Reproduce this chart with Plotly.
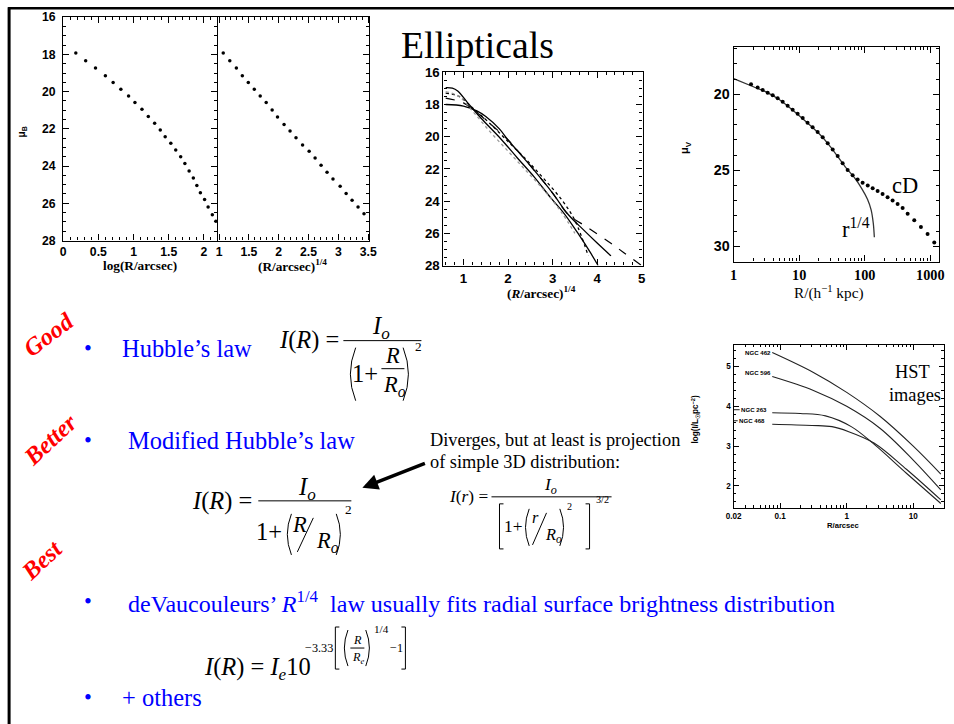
import plotly.graph_objects as go

W, H = 954, 724
# The photographed page shows the figure inset by the body margin and slightly
# scaled; positions below are given in reference-picture pixels and mapped back.
SX, OX = 0.9835, 7.9
SY, OY = 0.978, 7.8
FS = 1.0 / 0.981
SERIF = "Liberation Serif, Times New Roman, serif"
SANS = "Liberation Sans, Arial, sans-serif"

# ---------------- data ----------------
# Panel A: mu_B vs log(R/arcsec)
logR_A = [0.18, 0.32, 0.46, 0.60, 0.71, 0.82, 0.93, 1.02, 1.12, 1.21, 1.30, 1.38, 1.45,
          1.53, 1.60, 1.67, 1.73, 1.79, 1.85, 1.90, 1.95, 2.01, 2.06, 2.12, 2.17]
mu_A = [17.93, 18.34, 18.73, 19.15, 19.51, 19.87, 20.23, 20.59, 20.95, 21.34, 21.70, 22.06, 22.42,
        22.78, 23.14, 23.50, 23.86, 24.27, 24.64, 25.05, 25.44, 25.80, 26.20, 26.61, 26.97]
# Panel B: mu_B vs (R/arcsec)^1/4
r14_B = [1.07, 1.18, 1.29, 1.39, 1.49, 1.59, 1.69, 1.79, 1.89, 1.98, 2.09, 2.19, 2.29, 2.40,
         2.51, 2.61, 2.71, 2.81, 2.91, 3.03, 3.13, 3.23, 3.33, 3.43]
mu_B = [17.93, 18.34, 18.73, 19.15, 19.51, 19.87, 20.23, 20.59, 20.98, 21.36, 21.76, 22.12, 22.48,
        22.87, 23.20, 23.56, 23.95, 24.33, 24.69, 25.08, 25.48, 25.84, 26.20, 26.56]
# Panel C: several profiles vs (R/arcsec)^1/4
C_s1_x = [0.60, 0.75, 0.87, 1.09, 1.39, 1.84, 2.21, 2.59, 2.96, 3.26, 3.56, 3.86, 4.02]
C_s1_y = [16.95, 16.98, 17.16, 17.88, 18.84, 20.14, 21.32, 22.51, 23.80, 24.77, 25.96, 27.25, 28.0]
C_s2_x = [0.60, 1.00, 1.30, 1.50, 1.80, 2.00, 2.50, 3.00, 3.34, 3.70, 4.00, 4.31]
C_s2_y = [18.0, 18.1, 18.4, 18.75, 19.5, 20.2, 21.8, 23.5, 24.8, 25.8, 26.6, 27.4]
C_dash_x = [0.60, 1.00, 1.30, 1.60, 2.00, 2.50, 3.00, 3.34, 3.80, 4.30, 4.60, 5.00]
C_dash_y = [17.6, 17.9, 18.5, 19.2, 20.2, 21.8, 23.5, 24.8, 25.66, 26.6, 27.2, 28.0]
C_dot_x = [0.60, 0.90, 1.20, 1.60, 2.00, 2.40, 2.80, 3.20, 3.50, 3.80]
C_dot_y = [17.3, 17.5, 18.2, 19.2, 20.3, 21.4, 22.6, 23.9, 25.2, 27.4]
C_grey_x = [0.60, 0.90, 1.20, 1.60, 2.00, 2.40, 2.80, 3.20, 3.50]
C_grey_y = [17.2, 17.5, 18.4, 19.7, 20.9, 22.1, 23.3, 24.7, 26.0]
# Panel D: cD galaxy profile (points) and r^1/4 fit (line)
R_cD = [1.84, 2.32, 2.77, 3.30, 3.94, 4.69, 5.59, 6.66, 7.94, 9.46, 11.3, 13.4, 16.0, 19.1, 22.8,
        27.2, 32.4, 38.6, 45.9, 54.8, 65.3, 77.8, 92.7, 111, 132, 157, 187, 223, 266, 317, 378,
        451, 569, 719, 909, 1148]
mu_cD = [19.34, 19.55, 19.72, 19.89, 20.06, 20.26, 20.49, 20.75, 21.01, 21.28, 21.56, 21.86, 22.16,
         22.48, 22.83, 23.21, 23.62, 24.05, 24.54, 24.97, 25.33, 25.61, 25.82, 26.0, 26.17, 26.36,
         26.55, 26.77, 26.98, 27.22, 27.47, 27.86, 28.29, 28.72, 29.19, 29.74]
R_fit = [1, 2, 3, 5, 10, 20, 30, 50, 70, 90, 110, 125, 135, 140]
mu_fit = [18.97, 19.5, 19.8, 20.35, 21.4, 22.58, 23.45, 24.75, 25.5, 26.2, 26.9, 27.6, 28.5, 29.4]
# Panel E: HST profiles
hst_names = ["NGC 462", "NGC 596", "NGC 263", "NGC 468"]
hst_R = [[0.076, 0.316, 1.0, 3.16, 10.0, 26.0],
         [0.076, 0.316, 1.0, 3.16, 10.0, 26.0],
         [0.076, 0.2, 0.48, 1.17, 2.57, 7.9, 26.0],
         [0.076, 0.3, 0.6, 1.05, 2.57, 7.9, 26.0]]
hst_logI = [[5.35, 4.85, 4.35, 3.75, 3.0, 2.3],
            [4.75, 4.4, 4.0, 3.45, 2.65, 1.9],
            [3.84, 3.82, 3.76, 3.49, 3.05, 2.32, 1.56],
            [3.55, 3.52, 3.49, 3.37, 3.08, 2.42, 1.65]]


def X(r):
    return ((r - OX) / SX) / W


def Y(r):
    return 1 - ((r - OY) / SY) / H


def F(s):
    return round(s * FS, 2)


fig = go.Figure()

# ---------------- traces ----------------
fig.add_trace(go.Scatter(x=logR_A, y=mu_A, mode="markers", marker=dict(size=3.5, color="black"),
                         xaxis="x", yaxis="y"))
fig.add_trace(go.Scatter(x=r14_B, y=mu_B, mode="markers", marker=dict(size=3.5, color="black"),
                         xaxis="x2", yaxis="y2"))
for xs, ys, dash, col, w in [(C_s1_x, C_s1_y, "solid", "black", 1.3),
                             (C_s2_x, C_s2_y, "solid", "black", 1.3),
                             (C_dash_x, C_dash_y, "dash", "black", 1.2),
                             (C_dot_x, C_dot_y, "dot", "black", 1.3),
                             (C_grey_x, C_grey_y, "dot", "#9a9a9a", 1.3)]:
    fig.add_trace(go.Scatter(x=xs, y=ys, mode="lines", line=dict(color=col, width=w, dash=dash, shape="spline"),
                             xaxis="x3", yaxis="y3"))
fig.add_trace(go.Scatter(x=R_fit, y=mu_fit, mode="lines",
                         line=dict(color="#333", width=1.3, shape="spline", smoothing=0.8),
                         xaxis="x4", yaxis="y4"))
fig.add_trace(go.Scatter(x=R_cD, y=mu_cD, mode="markers", marker=dict(size=4, color="black"),
                         xaxis="x4", yaxis="y4"))
for rr, ii in zip(hst_R, hst_logI):
    fig.add_trace(go.Scatter(x=rr, y=ii, mode="lines", line=dict(color="#222", width=1.1, shape="spline"),
                             xaxis="x5", yaxis="y5"))


# ---------------- axes ----------------
def ax(dom, rng, anchor, **kw):
    d = dict(domain=dom, range=rng, anchor=anchor, showline=True, linecolor="black", linewidth=1.3,
             mirror="ticks", ticks="inside", ticklen=6, tickwidth=1.1, tickcolor="black",
             showgrid=False, zeroline=False,
             tickfont=dict(family=SANS, size=F(12), color="black", weight="bold"),
             minor=dict(ticks="inside", ticklen=3, tickwidth=0.9, tickcolor="black", showgrid=False))
    for k, v in kw.items():
        if k == "minor":
            d["minor"].update(v)
        elif k == "tickfont":
            v = dict(v)
            if "size" in v:
                v["size"] = F(v["size"])
            d["tickfont"].update(v)
        else:
            d[k] = v
    return d


def xd(a, b):
    return [X(a), X(b)]


def yd(bottom, top):
    return [Y(bottom), Y(top)]


dec_minor = [m * 10 ** e for e in range(0, 4) for m in range(2, 10)]
hst_minor = [m * 10 ** e for e in range(-2, 2) for m in range(2, 10)]

fig.update_layout(
    xaxis=ax(xd(63, 217), [0, 2.19], "y", tickvals=[0, 0.5, 1, 1.5, 2],
             ticktext=["0", "0.5", "1", "1.5", "2"], minor=dict(dtick=0.1)),
    yaxis=ax(yd(241, 18), [28, 16], "x", dtick=2, minor=dict(dtick=0.5), ticklabelstandoff=4),
    xaxis2=ax(xd(217, 369), [0.97, 3.52], "y2", tickvals=[1, 1.5, 2, 2.5, 3, 3.5],
              ticktext=["1", "1.5", "2", "2.5", "3", "3.5"], minor=dict(dtick=0.1)),
    yaxis2=ax(yd(241, 18), [28, 16], "x2", dtick=2, showticklabels=False, side="right", mirror=False,
              minor=dict(dtick=0.5)),
    xaxis3=ax(xd(443, 642), [0.55, 5.02], "y3", dtick=1, tickfont=dict(size=13), minor=dict(dtick=0.2)),
    yaxis3=ax(yd(266, 73), [28, 16], "x3", dtick=2, tickfont=dict(size=13), minor=dict(dtick=0.5)),
    xaxis4=ax(xd(733, 938), [0, 3.13], "y4", type="log", tickvals=[1, 10, 100, 1000],
              ticktext=["1", "10", "100", "1000"], tickfont=dict(size=14, family=SERIF),
              minor=dict(tickvals=dec_minor)),
    yaxis4=ax(yd(262, 48), [31.0, 16.9], "x4", dtick=5, tickfont=dict(size=14), minor=dict(dtick=1)),
    xaxis5=ax(xd(733, 943), [-1.699, 1.46], "y5", type="log", tickvals=[0.02, 0.1, 1, 10],
              ticktext=["0.02", "0.1", "1", "10"], tickfont=dict(size=8), ticklen=5,
              minor=dict(tickvals=hst_minor, ticklen=2.5)),
    yaxis5=ax(yd(508, 345), [1.45, 5.55], "x5", dtick=1, tickfont=dict(size=8), ticklen=5,
              minor=dict(dtick=0.2, ticklen=2.5)),
)

# ---------------- annotations & glyph shapes ----------------
ann = []
shapes = []


def T(x, y, s, size, color="black", xa="center", ya="middle", angle=0, family=SERIF, weight="normal"):
    ann.append(dict(x=X(x), y=Y(y), xref="paper", yref="paper", text=s, showarrow=False,
                    xanchor=xa, yanchor=ya, textangle=angle,
                    font=dict(family=family, size=F(size), color=color, weight=weight)))


def L(x0, y0, x1, y1, w=1.0, color="black"):
    shapes.append(dict(type="line", xref="paper", yref="paper", x0=X(x0), y0=Y(y0), x1=X(x1), y1=Y(y1),
                       line=dict(color=color, width=w)))


def pt(x, y):
    return f"{X(x):.5f},{Y(y):.5f}"


def P(d, w=1.0):
    shapes.append(dict(type="path", xref="paper", yref="paper", path=d, line=dict(color="black", width=w)))


def paren(x, y0, y1, side, w=1.0):
    b = 0.1 * (y1 - y0)
    if side == "l":
        P(f"M {pt(x + b, y0)} Q {pt(x - b, (y0 + y1) / 2)} {pt(x + b, y1)}", w)
    else:
        P(f"M {pt(x - b, y0)} Q {pt(x + b, (y0 + y1) / 2)} {pt(x - b, y1)}", w)


def bracket(x, y0, y1, side, w=1.0):
    s = 4 if side == "l" else -4
    P(f"M {pt(x + s, y0)} L {pt(x, y0)} L {pt(x, y1)} L {pt(x + s, y1)}", w)


# slide border
L(9, 8, 9, 730, w=3)
L(8, 9, 960, 9, w=2.5)

# title
T(477, 46, "Ellipticals", 37)

# panel axis titles
T(22, 133, "μ<sub>B</sub>", 10, angle=-90, family=SANS, weight="bold")
T(140, 266, "log(R/arcsec)", 13, weight="bold")
T(292, 266, "(R/arcsec)<sup>1/4</sup>", 13, weight="bold")
T(541, 293, "(<i>R</i>/arcsec)<sup>1/4</sup>", 13, weight="bold")
T(685, 148, "μ<sub>V</sub>", 11, angle=-90, family=SANS, weight="bold")
T(828, 292, "R/(h<sup>−1</sup> kpc)", 15)
T(904, 186, "cD", 22)
T(855, 229, "r<sup>1/4</sup>", 22)
T(695, 420, "log(I/L<sub>☉</sub>pc<sup>−2</sup>)", 8, angle=-90, family=SANS, weight="bold")
T(843, 526, "R/arcsec", 7.5, family=SANS, weight="bold")
T(912, 372, "HST", 18)
T(914, 395, "images", 18)
for name, (lx, ly) in zip(hst_names, [(757, 353), (757, 373), (753, 410), (751, 421)]):
    T(lx, ly, name, 6, family=SANS, weight="bold")
L(733, 410, 739, 410, w=0.9)
L(733, 421, 737, 421, w=0.9)

# quality labels
T(48, 335, "<i>Good</i>", 24, color="#ff0000", angle=-37, weight="bold")
T(50, 440, "<i>Better</i>", 24, color="#ff0000", angle=-43, weight="bold")
T(42, 560, "<i>Best</i>", 24, color="#ff0000", angle=-43, weight="bold")

# bullets
BLUE = "#0000ff"
for by in [349, 441, 602, 697]:
    T(88, by, "•", 22, color=BLUE)
T(120, 349, "Hubble’s law", 24, color=BLUE, xa="left")
T(126, 441, "Modified Hubble’s law", 24, color=BLUE, xa="left")
T(126, 602, "deVaucouleurs’ <i>R</i><sup>1/4</sup>  law usually fits radial surface brightness distribution",
  23.6, color=BLUE, xa="left")
T(120, 697, "+ others", 24, color=BLUE, xa="left")

# side note + arrow
T(428, 440, "Diverges, but at least is projection", 18, xa="left")
T(428, 462, "of simple 3D distribution:", 18, xa="left")
ann.append(dict(x=X(362), y=Y(488), xref="paper", yref="paper", ax=64, ay=-25, text="",
                showarrow=True, arrowhead=2, arrowsize=0.9, arrowwidth=3.5, arrowcolor="black"))

# Equation 1: Hubble's law
T(341, 340, "<i>I</i>(<i>R</i>) =", 24, xa="right")
T(381, 328, "<i>I<sub>o</sub></i>", 24)
L(343, 341, 421, 341)
paren(350, 348, 401, "l")
T(365, 374, "1+", 24)
T(392, 356, "<i>R</i>", 22)
L(381, 369, 404, 369)
T(394, 386, "<i>R<sub>o</sub></i>", 22)
paren(408, 348, 401, "r")
T(418, 347, "2", 13)

# Equation 2: modified Hubble's law
T(254, 501, "<i>I</i>(<i>R</i>) =", 24, xa="right")
T(307, 489, "<i>I<sub>o</sub></i>", 24)
L(258, 501, 351, 501)
T(269, 532, "1+", 24)
paren(287, 514, 555, "l")
T(299, 525, "<i>R</i>", 22)
L(297, 552, 313, 518)
T(327, 542, "<i>R<sub>o</sub></i>", 22)
paren(340, 514, 555, "r")
T(348, 510, "2", 13)

# Equation 3: 3D distribution
T(490, 497, "<i>I</i>(<i>r</i>) =", 17, xa="right")
T(550, 486, "<i>I<sub>o</sub></i>", 17)
L(491, 497, 611, 497)
bracket(499, 504, 549, "l")
T(513, 527, "1+", 17)
paren(525, 509, 546, "l")
T(535, 518, "<i>r</i>", 16)
L(532, 545, 546, 513)
T(553, 535, "<i>R<sub>o</sub></i>", 16)
paren(563, 509, 546, "r")
T(569, 507, "2", 10)
bracket(589, 504, 549, "r")
T(602, 500, "3/2", 10)

# Equation 4: de Vaucouleurs
T(202, 668, "<i>I</i>(<i>R</i>) = <i>I<sub>e</sub></i>10", 24, xa="left")
T(319, 648, "−3.33", 12)
bracket(335, 627, 669, "l")
paren(344, 630, 666, "l")
T(357, 640, "<i>R</i>", 12)
L(350, 648, 364, 648)
T(358, 658, "<i>R<sub>e</sub></i>", 12)
paren(369, 630, 666, "r")
T(381, 629, "1/4", 11)
T(396, 648, "−1", 12)
bracket(405, 627, 669, "r")

fig.update_layout(annotations=ann, shapes=shapes, width=W, height=H,
                  margin=dict(l=0, r=0, t=0, b=0), showlegend=False,
                  paper_bgcolor="white", plot_bgcolor="white",
                  font=dict(family=SERIF, color="black"))

fig.write_html("out.html")
